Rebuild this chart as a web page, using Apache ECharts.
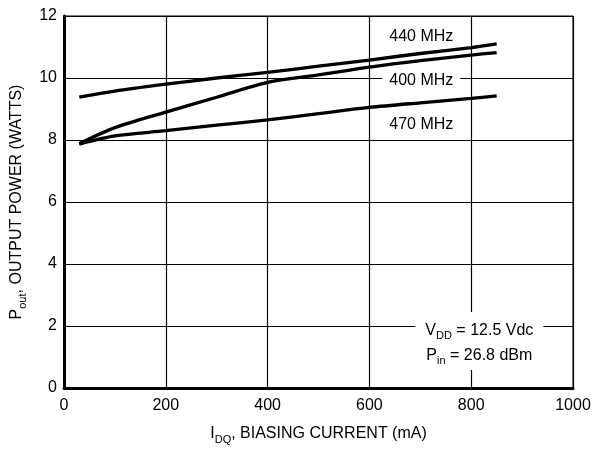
<!DOCTYPE html>
<html>
<head>
<meta charset="utf-8">
<script src="https://cdn.jsdelivr.net/npm/echarts@6/dist/echarts.min.js"></script>
<style>
  html, body { margin: 0; padding: 0; background: #fff; }
  #chart { width: 595px; height: 450px; }
</style>
</head>
<body>
<div id="chart"></div>
<script>
// Biasing current (mA) at which each curve is sampled
const biasCurrent = [30, 100, 200, 300, 400, 500, 600, 700, 800, 850];

// Output power (W) per frequency
const pout440 = [9.38, 9.58, 9.80, 10.00, 10.18, 10.38, 10.58, 10.79, 10.98, 11.10];
const pout400 = [7.88, 8.40, 8.90, 9.38, 9.86, 10.10, 10.35, 10.56, 10.74, 10.82];
const pout470 = [7.87, 8.13, 8.30, 8.48, 8.65, 8.85, 9.05, 9.20, 9.34, 9.42];

// Curve captions, placed in data units
const curveNames = ['440 MHz', '400 MHz', '470 MHz'];
const captionAt = [[702, 11.32], [702, 9.92], [702, 8.50]];

// Test conditions note
const conditionAt = [816, 1.52];

// Axis ranges
const xRange = [0, 1000, 200];
const yRange = [0, 12, 2];

const FONT = '"Liberation Sans", Arial, Helvetica, sans-serif';

const rich = {
  t: { fontFamily: FONT, fontSize: 16, color: '#000', verticalAlign: 'bottom', padding: [0, 0, 3, 0] },
  s: { fontFamily: FONT, fontSize: 11, color: '#000', verticalAlign: 'bottom' }
};

function pairs(ys) {
  return biasCurrent.map((x, i) => [x, ys[i]]);
}

function curve(name, ys, idx) {
  return {
    name: name,
    type: 'line',
    data: pairs(ys),
    smooth: 0.3,
    symbol: 'none',
    lineStyle: { color: '#000', width: 3.3 },
    z: 3,
    markPoint: {
      symbol: 'circle',
      symbolSize: 0,
      silent: true,
      data: [{ coord: captionAt[idx] }],
      label: {
        show: true,
        position: 'inside',
        formatter: name,
        fontFamily: FONT,
        fontSize: 16,
        color: '#000',
        backgroundColor: '#fff',
        padding: [2, 7]
      }
    }
  };
}

const chart = echarts.init(document.getElementById('chart'), null, { renderer: 'canvas' });

chart.setOption({
  backgroundColor: '#fff',
  animation: false,
  grid: {
    left: 64, right: 22, top: 16, bottom: 62,
    show: true, borderColor: '#000', borderWidth: 1
  },
  xAxis: {
    type: 'value',
    min: xRange[0], max: xRange[1], interval: xRange[2],
    name: '{t|I}{s|DQ}{t|, BIASING CURRENT (mA)}',
    nameLocation: 'middle',
    nameGap: 38,
    nameTextStyle: { rich: rich },
    axisLine: { show: true, lineStyle: { color: '#000', width: 3 } },
    axisTick: { show: false },
    axisLabel: { fontFamily: FONT, fontSize: 16, color: '#000', margin: 10, formatter: v => String(v) },
    splitLine: { show: true, lineStyle: { color: '#000', width: 1.2 } }
  },
  yAxis: {
    type: 'value',
    min: yRange[0], max: yRange[1], interval: yRange[2],
    name: '{t|P}{s|out}{t|, OUTPUT POWER (WATTS)}',
    nameLocation: 'middle',
    nameGap: 36,
    nameTextStyle: { rich: rich },
    axisLine: { show: true, lineStyle: { color: '#000', width: 3 } },
    axisTick: { show: false },
    axisLabel: { fontFamily: FONT, fontSize: 16, color: '#000', margin: 7, formatter: v => String(v) },
    splitLine: { show: true, lineStyle: { color: '#000', width: 1.2 } }
  },
  series: [
    curve(curveNames[0], pout440, 0),
    curve(curveNames[1], pout400, 1),
    curve(curveNames[2], pout470, 2),
    {
      name: 'conditions',
      type: 'scatter',
      data: [],
      markPoint: {
        symbol: 'circle',
        symbolSize: 0,
        silent: true,
        data: [{ coord: conditionAt }],
        label: {
          show: true,
          position: 'inside',
          formatter: '{t|V}{s|DD}{t| = 12.5 Vdc}\n{t|P}{s|in}{t| = 26.8 dBm}',
          backgroundColor: '#fff',
          padding: [5, 10, 3, 10],
          lineHeight: 25,
          rich: {
            t: { fontFamily: FONT, fontSize: 16, color: '#000', verticalAlign: 'bottom', padding: [0, 0, 3, 0], lineHeight: 25 },
            s: { fontFamily: FONT, fontSize: 11, color: '#000', verticalAlign: 'bottom', lineHeight: 25 }
          }
        }
      }
    }
  ]
});
</script>
</body>
</html>
